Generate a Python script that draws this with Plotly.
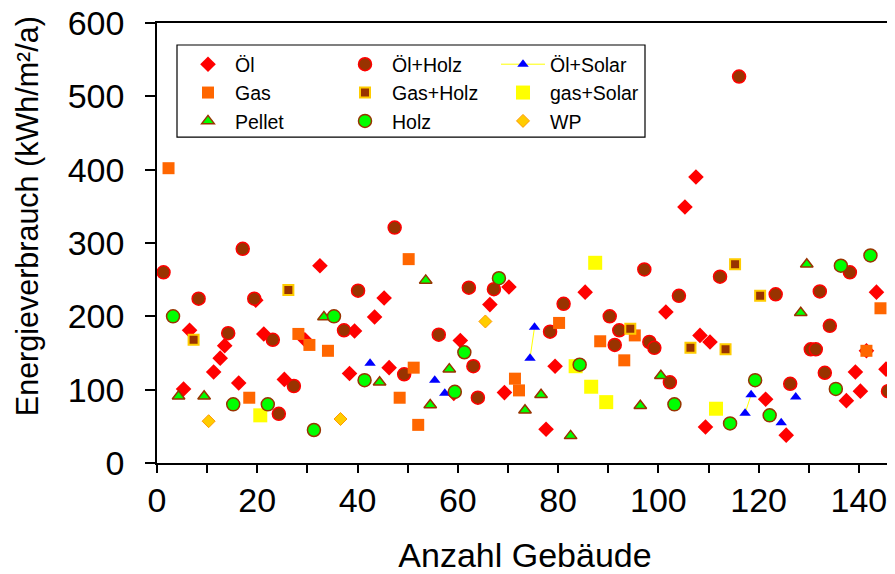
import plotly.graph_objects as go

# ---------------- data ----------------
oel_x = [32.5, 19.7, 6.5, 13.5, 12.6, 11.3, 21.3, 29.5, 5.3, 16.3, 25.4, 45.3, 43.4, 70.2,
         66.4, 39.4, 60.5, 38.4, 46.3, 59.2, 69.3, 107.5, 105.3, 85.4, 101.5, 108.3, 110.3,
         79.4, 77.6, 109.4, 143.5, 141.5, 139.3, 145.4, 140.3, 137.5, 121.4, 125.5]
oel_y = [269, 222, 181, 160, 143, 124, 176, 168, 101, 109, 114, 225, 199, 240,
         216, 180, 167, 122, 130, 95, 96, 390, 349, 233, 206, 174, 165,
         132, 46, 49, 233, 153, 124, 128, 98, 85, 87, 38]

oelholz_x = [1.3, 17.1, 8.3, 19.4, 14.2, 23.1, 37.3, 27.3, 24.3, 47.4, 40.1, 62.2, 67.2,
             56.2, 63.1, 49.3, 64.0, 116.1, 97.2, 104.1, 81.1, 90.3, 78.4, 92.2, 91.3,
             98.2, 99.2, 102.3, 112.3, 123.4, 138.2, 132.2, 134.2, 130.4, 131.4, 133.2,
             145.8, 126.3]
oelholz_y = [260, 292, 224, 224, 177, 168, 181, 105, 67, 321, 235, 239, 237,
             175, 132, 121, 89, 527, 264, 228, 217, 200, 179, 181, 161,
             165, 157, 110, 254, 230, 260, 234, 187, 155, 155, 123,
             98, 108]

# None separates points that are not joined by the yellow line
oelsolar_x = [42.5, None, 55.4, None, 57.4, None, 74.4, 75.3, None, 117.3, 118.5,
              None, 124.5, None, 127.4]
oelsolar_y = [136, None, 113, None, 95, None, 143, 185, None, 68, 93,
              None, 55, None, 90]

gas_x = [2.3, 28.2, 30.4, 34.1, 18.4, 50.2, 51.2, 48.4, 52.1, 71.4, 72.2, 80.2, 95.3,
         88.4, 93.2, 144.3, 141.5]
gas_y = [402, 176, 161, 153, 89, 278, 130, 89, 52, 115, 99, 191, 174,
         166, 140, 211, 153]

gasholz_x = [26.2, 7.3, 94.4, 106.4, 115.3, 120.3, 113.4]
gasholz_y = [236, 168, 183, 157, 271, 228, 155]

gassolar_x = [20.6, 87.4, 83.5, 86.6, 89.6, 111.5]
gassolar_y = [65, 273, 132, 104, 83, 74]

pellet_x = [33.3, 4.3, 9.4, 53.6, 44.4, 58.3, 54.5, 73.4, 76.6, 82.5, 100.5, 96.4,
            129.6, 128.4]
pellet_y = [199, 91, 91, 249, 110, 128, 79, 72, 93, 37, 119, 78,
            271, 205]

holz_x = [3.2, 35.3, 15.2, 22.1, 31.3, 68.2, 61.3, 41.4, 59.4, 84.3, 103.2, 136.4,
          142.3, 135.4, 119.3, 122.2, 114.3]
holz_y = [200, 200, 80, 80, 45, 252, 151, 113, 97, 134, 80, 269,
          283, 101, 113, 65, 54]

wp_x = [10.3, 36.6, 65.5]
wp_y = [57, 60, 193]

x_ticks = [0, 20, 40, 60, 80, 100, 120, 140]
y_ticks = [0, 100, 200, 300, 400, 500, 600]

# ---------------- figure ----------------
FONT = "Liberation Sans, Arial, sans-serif"
NARROW = "Liberation Sans Narrow, Arial Narrow, Liberation Sans, sans-serif"

fig = go.Figure()


def add(name, x, y, symbol, size, color, lcolor, lwidth, legend, mode="markers", line=None):
    fig.add_trace(go.Scatter(
        x=x, y=y, name=name, mode=mode, legend=legend,
        marker=dict(symbol=symbol, size=size, color=color,
                    line=dict(color=lcolor, width=lwidth)),
        line=line, connectgaps=False, cliponaxis=False,
    ))


add("Öl", oel_x, oel_y, "diamond", 12, "#FF0000", "#FF0000", 0, "legend")
add("Öl+Holz", oelholz_x, oelholz_y, "circle", 13, "#993300", "#FF0000", 1.5, "legend2")
add("Öl+Solar", oelsolar_x, oelsolar_y, "triangle-up", 10, "#0000FF", "#0000FF", 0,
    "legend3", mode="lines+markers", line=dict(color="#FFFF00", width=1))
add("Gas", gas_x, gas_y, "square", 12, "#FF6600", "#FF6600", 0, "legend")
add("Gas+Holz", gasholz_x, gasholz_y, "square", 10, "#993300", "#FFCC00", 2, "legend2")
add("gas+Solar", gassolar_x, gassolar_y, "square", 14, "#FFFF00", "#FFFF00", 0, "legend3")
add("Pellet", pellet_x, pellet_y, "triangle-up", 11, "#00FF00", "#993300", 1.5, "legend")
add("Holz", holz_x, holz_y, "circle", 13, "#00FF00", "#993300", 1.5, "legend2")
add("WP", wp_x, wp_y, "diamond", 10, "#FFCC00", "#FF9900", 1, "legend3")

# the page has an 8 px body margin: lay the figure out in page pixels, minus that offset
OFF = 8
PAGE_W, PAGE_H = 895, 574
W, H = PAGE_W - OFF, PAGE_H - OFF
PL, PR, PT, PB = 157, 893, 23, 462.6      # plot area in page pixels
L, R, T, B = PL - OFF, PAGE_W - PR, PT - OFF, PAGE_H - PB
pw, ph = W - L - R, H - T - B


def px_x(p):
    return (p - OFF - L) / pw


def px_y(p):
    return (H - B - (p - OFF)) / ph


leg_common = dict(
    xanchor="left", yanchor="top", bgcolor="rgba(0,0,0,0)", borderwidth=0,
    font=dict(family=FONT, size=19.5, color="black"), tracegroupgap=0,
    orientation="v", traceorder="normal", itemwidth=44,
)

fig.update_layout(
    width=W, height=H,
    margin=dict(l=L, r=R, t=T, b=B, autoexpand=False),
    paper_bgcolor="white", plot_bgcolor="white",
    font=dict(family=FONT, color="black"),
    showlegend=True,
    legend=dict(x=px_x(181), y=px_y(45), **leg_common),
    legend2=dict(x=px_x(338), y=px_y(45), **leg_common),
    legend3=dict(x=px_x(496), y=px_y(45), **leg_common),
    xaxis=dict(
        range=[0, 146.8], tickvals=x_ticks, ticks="outside", ticklen=8, tickwidth=1.5,
        tickcolor="black", showline=True, linecolor="black", linewidth=1.5, mirror=True,
        showgrid=False, zeroline=False, ticklabelstandoff=-2, ticklabeloverflow="allow",
        tickfont=dict(family=NARROW, size=34, color="black"),
        minor=dict(dtick=10, ticks="outside", ticklen=8, tickwidth=1.5, tickcolor="black",
                   showgrid=False),
        title=dict(text="Anzahl Gebäude", font=dict(family=NARROW, size=34, color="black"),
                   standoff=26),
    ),
    yaxis=dict(
        range=[0, 600], tickvals=y_ticks, ticks="outside", ticklen=10, tickwidth=1.5,
        tickcolor="black", showline=True, linecolor="black", linewidth=1.5, mirror=True,
        showgrid=False, zeroline=False, ticklabelstandoff=14, ticklabeloverflow="allow",
        tickfont=dict(family=FONT, size=34, color="black"),
    ),
    shapes=[dict(type="rect", xref="paper", yref="paper",
                 x0=px_x(177), x1=px_x(645), y0=px_y(137), y1=px_y(45),
                 line=dict(color="black", width=1.2), fillcolor="white", layer="below")],
    annotations=[dict(text="Energieverbrauch (kWh/m²/a)", textangle=-90, xref="paper",
                      yref="paper", x=px_x(27), y=px_y(216), xanchor="center",
                      yanchor="middle", showarrow=False,
                      font=dict(family=FONT, size=30.5, color="black"))],
)

fig.write_html("out.html")
